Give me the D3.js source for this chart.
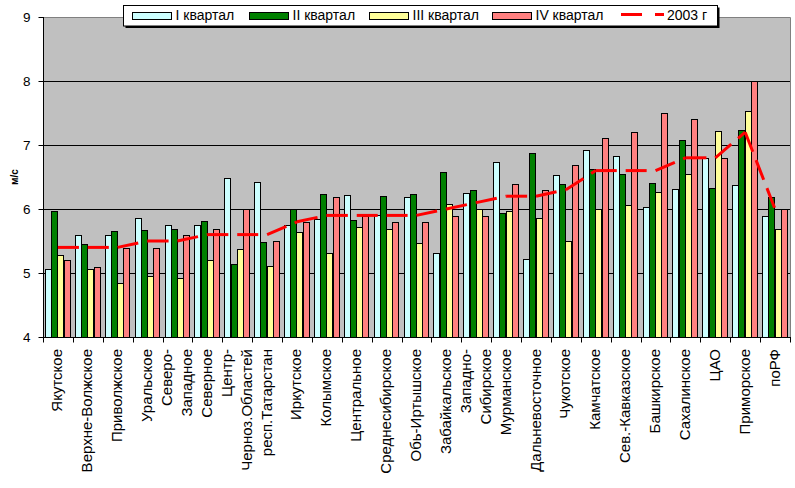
<!DOCTYPE html>
<html>
<head>
<meta charset="utf-8">
<script src="https://cdn.jsdelivr.net/npm/d3@7"></script>
<style>
    body { margin: 0; background: #fff; }
    svg { display: block; }
</style>
</head>
<body>
<div id="chart_container"></div>
<script>
// регионы (подписи по оси X), "\n" - перенос строки в подписи
const categories = ['Якутское', 'Верхне-Волжское', 'Приволжское', 'Уральское', 'Северо-\nЗападное',
    'Северное', 'Центр-\nЧерноз.Областей', 'респ.Татарстан', 'Иркутское', 'Колымское',
    'Центральное', 'Среднесибирское', 'Обь-Иртышское', 'Забайкальское', 'Западно-\nСибирское',
    'Мурманское', 'Дальневосточное', 'Чукотское', 'Камчатское', 'Сев.-Кавказское',
    'Башкирское', 'Сахалинское', 'ЦАО', 'Приморское', 'поРФ'];

const seriesNames = ['I квартал', 'II квартал', 'III квартал', 'IV квартал'];
const lineName = '2003 г';

const q1 = [5.06, 5.59, 5.59, 5.86, 5.75, 5.75, 6.48, 6.42, 5.75, 5.84, 6.22, 5.91, 6.19,
    5.31, 6.25, 6.73, 5.22, 6.53, 6.92, 6.83, 6.03, 6.31, 6.80, 6.38, 5.89];
const q2 = [5.97, 5.45, 5.66, 5.67, 5.69, 5.81, 5.14, 5.48, 6.00, 6.23, 5.83, 6.20, 6.23,
    6.58, 6.30, 5.94, 6.88, 6.39, 6.62, 6.55, 6.41, 7.08, 6.33, 7.23, 6.19];
const q3 = [5.28, 5.06, 4.84, 4.95, 4.92, 5.20, 5.38, 5.11, 5.64, 5.31, 5.72, 5.69, 5.47,
    6.08, 6.00, 5.97, 5.86, 5.50, 6.00, 6.06, 6.27, 6.55, 7.22, 7.53, 5.69];
const q4 = [5.20, 5.09, 5.39, 5.39, 5.59, 5.69, 6.00, 5.50, 5.80, 6.19, 5.89, 5.80, 5.80,
    5.89, 5.89, 6.39, 6.30, 6.69, 7.11, 7.20, 7.50, 7.41, 6.80, 8.00, 6.00];
const y2003 = [5.4, 5.4, 5.4, 5.5, 5.5, 5.6, 5.6, 5.6, 5.8, 5.9, 5.9, 5.9, 5.9,
    6.0, 6.1, 6.2, 6.2, 6.3, 6.6, 6.6, 6.6, 6.8, 6.8, 7.2, 6.0];

const yTicks = [4, 5, 6, 7, 8, 9];
const yLabel = 'м/с';

const colors = ['#CCFFFF', '#008000', '#FFFF99', '#FF8080'];
const font = "'Liberation Sans', Arial, sans-serif";

const W = 795, H = 488;
const pLeft = 43, pRight = 790, pTop = 17, pBottom = 337;

var svg = d3.select('#chart_container')
    .append('svg')
    .attr('width', W)
    .attr('height', H);

const x0 = d3.scaleBand()
    .domain(categories)
    .range([pLeft, pRight])
    .padding(0);

const x1 = d3.scaleBand()
    .domain(seriesNames)
    .range([2, x0.bandwidth() - 3])
    .padding(0);

const y = d3.scaleLinear()
    .domain([4, 9])
    .range([pBottom, pTop]);

// фон области построения
svg.append('rect')
    .attr('x', pLeft)
    .attr('y', pTop)
    .attr('width', pRight - pLeft)
    .attr('height', pBottom - pTop)
    .attr('fill', '#C0C0C0');

// линии сетки
svg.append('g')
    .selectAll('line')
    .data(yTicks.filter(d => d > 4 && d < 9))
    .enter()
    .append('line')
    .attr('x1', pLeft)
    .attr('x2', pRight)
    .attr('y1', d => Math.round(y(d)) + 0.5)
    .attr('y2', d => Math.round(y(d)) + 0.5)
    .attr('stroke', 'black');

// рамка сверху и справа
svg.append('path')
    .attr('d', 'M' + pLeft + ',' + (pTop + 0.5) + 'H' + (pRight + 0.5) + 'V' + pBottom)
    .attr('fill', 'none')
    .attr('stroke', '#808080');

// столбцы
const series = [q1, q2, q3, q4];
series.forEach((vals, s) => {
    svg.append('g')
        .selectAll('rect')
        .data(vals)
        .enter()
        .append('rect')
        .attr('x', (d, i) => Math.round(x0(categories[i]) + x1(seriesNames[s])) + 0.5)
        .attr('y', d => Math.round(y(d)) + 0.5)
        .attr('width', Math.round(x1.bandwidth()))
        .attr('height', d => Math.round(y(4)) - Math.round(y(d)))
        .attr('fill', colors[s])
        .attr('stroke', 'black')
        .attr('stroke-width', 1);
});

// линия 2003 г - каждый отрезок отдельно, штрих начинается от точки
const pts = y2003.map((d, i) => [x0(categories[i]) + x0.bandwidth() / 2, y(d)]);
for (let i = 0; i < pts.length - 1; i++) {
    svg.append('path')
        .attr('d', d3.line()([pts[i], pts[i + 1]]))
        .attr('fill', 'none')
        .attr('stroke', '#FF0000')
        .attr('stroke-width', 3)
        .attr('stroke-dasharray', '21,9');
}

// ось Y
const yAxis = svg.append('g')
    .attr('transform', 'translate(' + (pLeft + 0.5) + ',0)')
    .call(d3.axisLeft(y).tickValues(yTicks).tickSize(5).tickPadding(8).tickFormat(d3.format('d')));
yAxis.select('.domain').attr('stroke', 'black').attr('d', 'M0,' + pTop + 'V' + (pBottom + 5));
yAxis.selectAll('.tick line').attr('stroke', 'black');
yAxis.selectAll('.tick text')
    .attr('font-family', font)
    .attr('font-size', '13.5px')
    .attr('fill', 'black');

// ось X
const xAxis = svg.append('g')
    .attr('transform', 'translate(0,' + (pBottom + 0.5) + ')');
xAxis.append('line')
    .attr('x1', pLeft)
    .attr('x2', pRight + 1)
    .attr('y1', 0)
    .attr('y2', 0)
    .attr('stroke', 'black');
xAxis.selectAll('.xtick')
    .data(categories.concat(['__end']))
    .enter()
    .append('line')
    .attr('class', 'xtick')
    .attr('x1', (d, i) => Math.round(pLeft + i * x0.bandwidth()) + 0.5)
    .attr('x2', (d, i) => Math.round(pLeft + i * x0.bandwidth()) + 0.5)
    .attr('y1', 0)
    .attr('y2', 5)
    .attr('stroke', 'black');

// подписи категорий (повернуты)
categories.forEach((c, i) => {
    const lines = c.split('\n');
    const cx = x0(c) + x0.bandwidth() / 2;
    lines.forEach((t, k) => {
        const bx = cx + 4.5 + (k - (lines.length - 1) / 2) * 20;
        svg.append('text')
            .attr('transform', 'translate(' + bx + ',' + 349 + ') rotate(-90)')
            .attr('text-anchor', 'end')
            .attr('font-family', font)
            .attr('font-size', '15px')
            .attr('fill', 'black')
            .text(t);
    });
});

// подпись оси Y
svg.append('text')
    .attr('transform', 'translate(18,177) rotate(-90)')
    .attr('text-anchor', 'middle')
    .attr('font-family', font)
    .attr('font-size', '10px')
    .attr('font-weight', 'bold')
    .text(yLabel);

// легенда
const lg = svg.append('g');
lg.append('rect')
    .attr('x', 125.5)
    .attr('y', 7.5)
    .attr('width', 594)
    .attr('height', 20.5)
    .attr('fill', 'black');
lg.append('rect')
    .attr('x', 123.5)
    .attr('y', 5.5)
    .attr('width', 594)
    .attr('height', 20.5)
    .attr('fill', 'white')
    .attr('stroke', 'black');

const legendX = [132.5, 249.5, 369.5, 492.5];
seriesNames.forEach((name, s) => {
    lg.append('rect')
        .attr('x', legendX[s])
        .attr('y', 12.5)
        .attr('width', 39)
        .attr('height', 7)
        .attr('fill', colors[s])
        .attr('stroke', 'black');
    lg.append('text')
        .attr('x', legendX[s] + 43)
        .attr('y', 20)
        .attr('font-family', font)
        .attr('font-size', '14px')
        .attr('fill', 'black')
        .text(name);
});
lg.append('line')
    .attr('x1', 621)
    .attr('x2', 664)
    .attr('y1', 14.5)
    .attr('y2', 14.5)
    .attr('stroke', '#FF0000')
    .attr('stroke-width', 3)
    .attr('stroke-dasharray', '21,13');
lg.append('text')
    .attr('x', 667)
    .attr('y', 20)
    .attr('font-family', font)
    .attr('font-size', '14px')
    .attr('fill', 'black')
    .text(lineName);
</script>
</body>
</html>
